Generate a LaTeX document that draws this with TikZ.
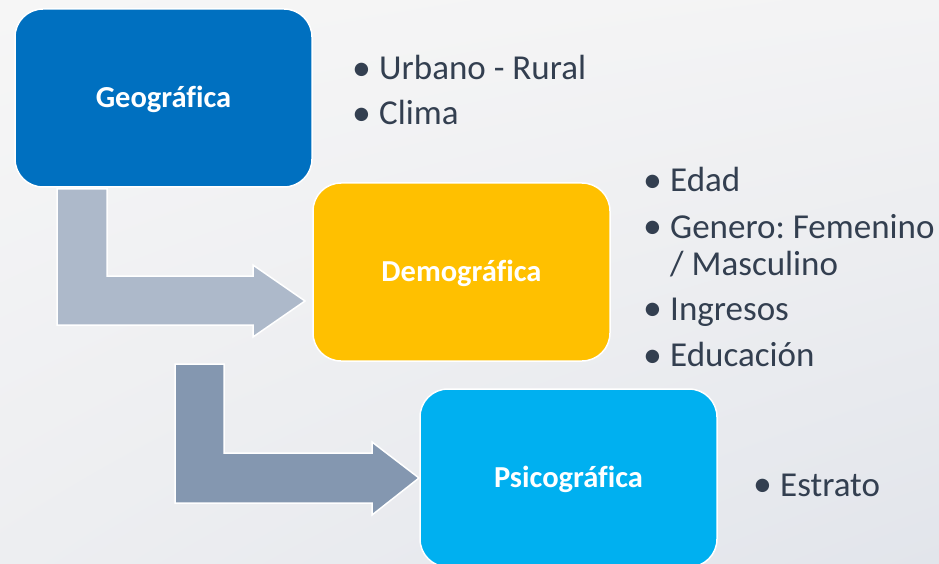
\documentclass[tikz,border=0pt]{standalone}
\usepackage{fontspec}
\setmainfont{Carlito}[Ligatures=NoCommon]
\usetikzlibrary{shadings}
\definecolor{txt}{HTML}{333F50}
\definecolor{geo}{HTML}{0070C0}
\definecolor{dem}{HTML}{FFC000}
\definecolor{psi}{HTML}{00B0F0}
\definecolor{arrA}{HTML}{ADB9CA}
\definecolor{arrB}{HTML}{8497B0}
\definecolor{bgUL}{HTML}{F6F6F6}
\definecolor{bgUR}{HTML}{F3F3F4}
\definecolor{bgLL}{HTML}{EDEEF1}
\definecolor{bgLR}{HTML}{E2E5EB}
\newcommand{\bul}{\makebox[28pt][l]{\hspace{1pt}\raisebox{-0.5pt}{\scalebox{1.08}{•}}}}
\frenchspacing
\begin{document}
\begin{tikzpicture}[x=1pt,y=-1pt,
  box/.style={rounded corners=28pt, draw=white, line width=1.5pt,
    minimum width=297pt, minimum height=178pt, inner sep=0pt,
    text=white, font=\fontsize{30.5}{34}\selectfont\bfseries,
    text height=25pt, text depth=6pt},
  barrow/.style={draw=white, line width=1.5pt},
  item/.style={anchor=base west, inner sep=0pt, text=txt,
    font=\fontsize{35}{37}\selectfont, align=left}
]
% background
\shade[upper left=bgUL, upper right=bgUR, lower left=bgLL, lower right=bgLR]
  (0,0) rectangle (939,564);
\useasboundingbox (0,0) rectangle (939,564);
% block arrows
\filldraw[barrow, fill=arrA] (57,189) -- (107,189) -- (107,276) -- (253,276) -- (253,265)
  -- (305,301) -- (253,337) -- (253,325) -- (57,325) -- cycle;
\filldraw[barrow, fill=arrB] (175,364) -- (224,364) -- (224,453) -- (372,453) -- (372,442)
  -- (419,478) -- (372,515) -- (372,503) -- (175,503) -- cycle;
% boxes
\node[box, fill=geo] (g) at (163.5,98) {Geográfica};
\node[box, fill=dem] (d) at (461.5,272) {Demográfica};
\node[box, fill=psi] (p) at (568.5,478) {Psicográfica};
% bullet lists
\node[item] (u1) at (351,80) {\bul Urbano - Rural};
\node[item] (u2) at (351,125) {\bul Clima};
\node[item] (e1) at (642,191.7) {\bul Edad};
\node[item] (e2) at (642,238.3) {\bul Genero: Femenino};
\node[item] (e3) at (642,275) {\hspace*{28pt}/ Masculino};
\node[item] (e4) at (642,320) {\bul Ingresos};
\node[item] (e5) at (642,366.7) {\bul Educación};
\node[item] (s1) at (752,496) {\bul Estrato};
\end{tikzpicture}
\end{document}
